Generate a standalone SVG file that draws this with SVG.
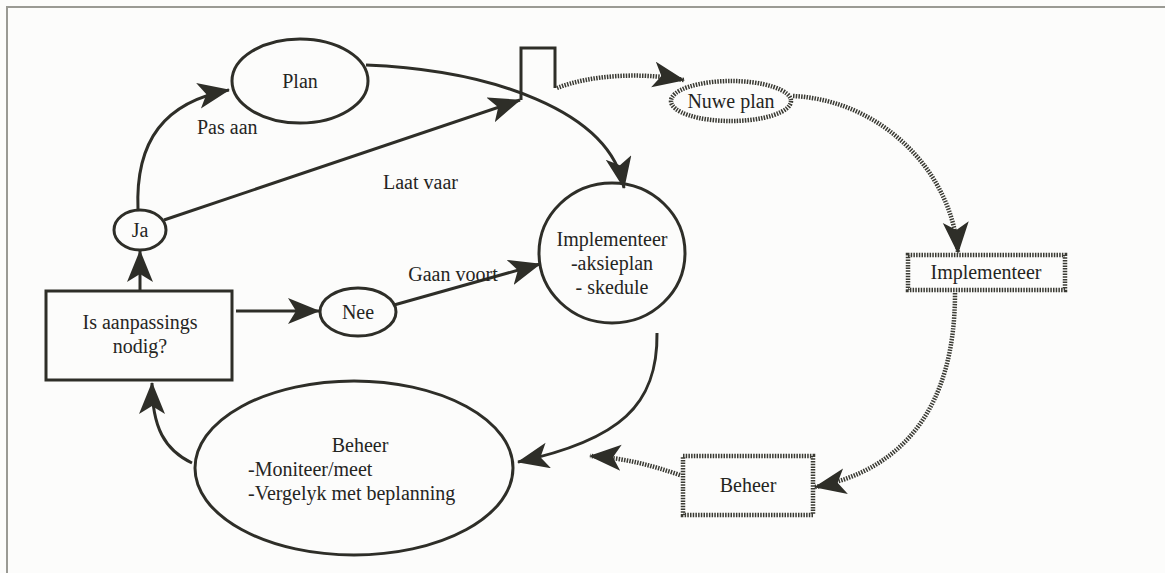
<svg xmlns="http://www.w3.org/2000/svg" width="1165" height="573" viewBox="0 0 1165 573">
  <style>
    .bg { fill: #fcfcfb; }
    .frame { fill: none; stroke: #9a9a94; stroke-width: 2; }
    .solid { fill: none; stroke: #2e2e28; stroke-width: 3; }
    .dot { fill: none; stroke: #3a3a33; stroke-width: 4.5; stroke-dasharray: 1.5 1.2; }
    .node { fill: none; stroke: #2e2e28; stroke-width: 3; }
    .dnode { fill: none; stroke: #3a3a33; stroke-width: 4.5; stroke-dasharray: 1.5 1.2; }
    .t { font-family: "Liberation Serif", "Times New Roman", serif; font-size: 20px; fill: #25251f; }
    .c { text-anchor: middle; }
  </style>
  <defs>
    <marker id="head" markerUnits="userSpaceOnUse" markerWidth="36" markerHeight="30" refX="31" refY="13" orient="auto">
      <path d="M0,0 L32,13 L0,26 L8,13 Z" fill="#2e2e28"/>
    </marker>
  </defs>

  <rect class="bg" x="0" y="0" width="1165" height="573"/>
  <path class="frame" d="M6,7 H1165 M7,7 V573"/>

  <g id="connectors">
    <!-- Ja -> Plan (Pas aan) -->
    <path class="solid" d="M138,210 C135,140 165,102 229,90" marker-end="url(#head)"/>
    <!-- Ja -> bracket (Laat vaar) -->
    <path class="solid" d="M164,220 L520,100" marker-end="url(#head)"/>
    <!-- Plan -> Implementeer -->
    <path class="solid" d="M366,65 C490,70 610,110 624,188" marker-end="url(#head)"/>
    <!-- bracket -->
    <path class="solid" d="M521,100 V48 H555 V88"/>
    <!-- decision -> Ja -->
    <path class="solid" d="M140,292 V251" marker-end="url(#head)"/>
    <!-- decision -> Nee -->
    <path class="solid" d="M236,311 H319" marker-end="url(#head)"/>
    <!-- Nee -> Implementeer (Gaan voort) -->
    <path class="solid" d="M394,305 L540,264" marker-end="url(#head)"/>
    <!-- Implementeer -> Beheer -->
    <path class="solid" d="M657,333 C658,405 620,440 518,462" marker-end="url(#head)"/>
    <!-- Beheer -> decision -->
    <path class="solid" d="M192,463 C165,450 152,428 152,383" marker-end="url(#head)"/>

    <!-- new plan branch -->
    <path class="dot" d="M557,88 C590,75 640,72 684,80" marker-end="url(#head)"/>
    <path class="dot" d="M793,96 C880,100 952,170 958,253" marker-end="url(#head)"/>
    <path class="dot" d="M955,293 C955,405 905,470 815,487" marker-end="url(#head)"/>
    <path class="dot" d="M680,475 C650,465 625,458 590,456" marker-end="url(#head)"/>

    <text class="t" x="197" y="134">Pas aan</text>
    <text class="t" x="383" y="189">Laat vaar</text>
    <text class="t c" x="453" y="281">Gaan voort</text>
  </g>

  <g id="plan">
    <ellipse class="node" cx="300" cy="81" rx="68" ry="42"/>
    <text class="t c" x="300" y="88">Plan</text>
  </g>
  <g id="ja">
    <ellipse class="node" cx="140" cy="230" rx="26" ry="20"/>
    <text class="t c" x="140" y="237">Ja</text>
  </g>
  <g id="nee">
    <ellipse class="node" cx="358" cy="312" rx="38" ry="24"/>
    <text class="t c" x="358" y="319">Nee</text>
  </g>
  <g id="besluit">
    <rect class="node" x="46" y="291" width="186" height="89"/>
    <text class="t c" x="140" y="329">Is aanpassings</text>
    <text class="t c" x="140" y="353">nodig?</text>
  </g>
  <g id="implementeer">
    <ellipse class="node" cx="612" cy="253" rx="73" ry="70"/>
    <text class="t c" x="612" y="246">Implementeer</text>
    <text class="t c" x="612" y="270">-aksieplan</text>
    <text class="t c" x="612" y="294">- skedule</text>
  </g>
  <g id="beheer">
    <ellipse class="node" cx="354" cy="468" rx="159" ry="87"/>
    <text class="t c" x="360" y="452">Beheer</text>
    <text class="t" x="248" y="476">-Moniteer/meet</text>
    <text class="t" x="248" y="500">-Vergelyk met beplanning</text>
  </g>
  <g id="nuwe-plan">
    <ellipse class="dnode" cx="731" cy="101" rx="60" ry="20"/>
    <text class="t c" x="731" y="108">Nuwe plan</text>
  </g>
  <g id="implementeer-nuut">
    <rect class="dnode" x="908" y="255" width="157" height="35"/>
    <text class="t c" x="986" y="279">Implementeer</text>
  </g>
  <g id="beheer-nuut">
    <rect class="dnode" x="683" y="456" width="130" height="59"/>
    <text class="t c" x="748" y="492">Beheer</text>
  </g>
</svg>
